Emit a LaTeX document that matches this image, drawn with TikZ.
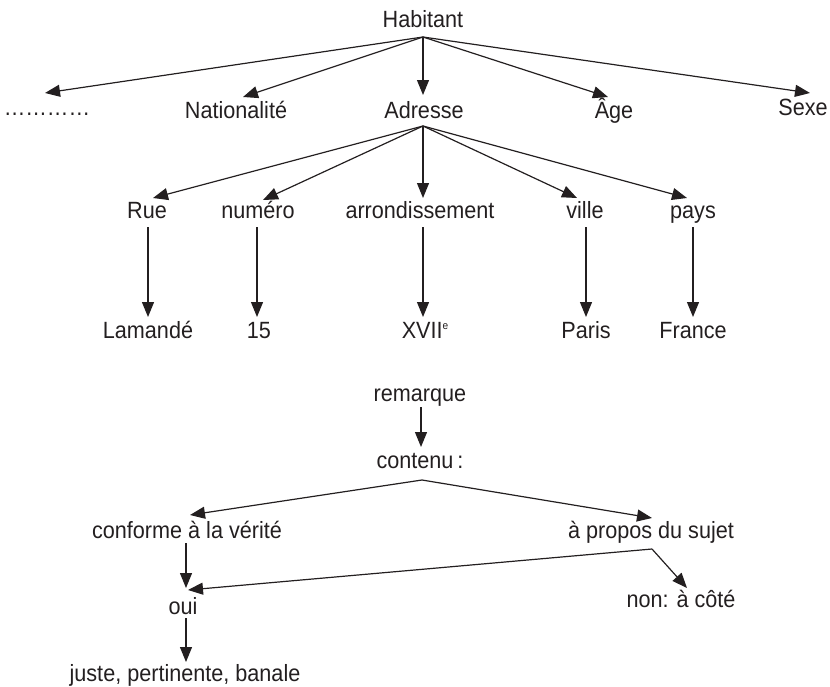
\documentclass[tikz,border=0pt]{standalone}
\usepackage{fontspec}
\setmainfont{Liberation Sans}[FakeStretch=0.92]
\usetikzlibrary{arrows.meta,calc}
\definecolor{ink}{RGB}{35,31,32}
\begin{document}
\begin{tikzpicture}[x=1pt,y=-1pt,
  lbl/.style={anchor=base,inner sep=0pt,text=ink,font=\fontsize{23.5}{28}\selectfont},
  arr/.style={draw=ink,line width=1.2pt,-{Triangle[length=15pt,width=12pt]}}]
\useasboundingbox (0,0) rectangle (830,686);
% level 0 and 1
\node[lbl] (hab) at (423,27) {Habitant};
\node[lbl] (dots) at (47,115) {…………};
\node[lbl] (nat) at (236,118) {Nationalité};
\node[lbl] (adr) at (424,118) {Adresse};
\node[lbl] (age) at (614,118) {Âge};
\node[lbl] (sexe) at (803,115) {Sexe};
% level 2
\node[lbl] (rue) at (147,218) {Rue};
\node[lbl] (num) at (258,218) {numéro};
\node[lbl] (arrd) at (420,218) {arrondissement};
\node[lbl] (ville) at (585,218) {ville};
\node[lbl] (pays) at (693,218) {pays};
% level 3
\node[lbl] (lam) at (148,338) {Lamandé};
\node[lbl] (quinze) at (259,338) {15};
\node[lbl] (xvii) at (425,338) {XVII\raisebox{9pt}{\fontsize{11}{11}\selectfont e}};
\node[lbl] (paris) at (586,338) {Paris};
\node[lbl] (france) at (693,338) {France};
% lower tree
\node[lbl] (rem) at (420,401) {remarque};
\node[lbl] (cont) at (420,468) {contenu\,:};
\node[lbl] (conf) at (187,538) {conforme à la vérité};
\node[lbl] (prop) at (651,538) {à propos du sujet};
\node[lbl] (oui) at (183,614) {oui};
\node[lbl] (non) at (681,607) {non: à côté};
\node[lbl] (juste) at (185,681) {juste, pertinente, banale};

% connectors, top
\coordinate (hab-o) at ($(hab.base)+(0,10)$);
\draw[arr] (hab-o) -- ($(dots.base)+(-2,-22)$);
\draw[arr] (hab-o) -- ($(nat.base)+(7,-21)$);
\draw[arr] (hab-o) -- ($(adr.base)+(-1,-23)$);
\draw[arr] (hab-o) -- ($(age.base)+(-6,-21)$);
\draw[arr] (hab-o) -- ($(sexe.base)+(7,-22)$);

\coordinate (adr-o) at ($(adr.base)+(-1,8)$);
\draw[arr] (adr-o) -- ($(rue.base)+(6,-20)$);
\draw[arr] (adr-o) -- ($(num.base)+(5,-18)$);
\draw[arr] (adr-o) -- ($(arrd.base)+(3,-20)$);
\draw[arr] (adr-o) -- ($(ville.base)+(-8,-20)$);
\draw[arr] (adr-o) -- ($(pays.base)+(-6,-20)$);

\draw[arr] ($(rue.base)+(1,9)$) -- ($(lam.base)+(0,-21)$);
\draw[arr] ($(num.base)+(-1,9)$) -- ($(quinze.base)+(-2,-21)$);
\draw[arr] ($(arrd.base)+(3,9)$) -- ($(xvii.base)+(-2,-21)$);
\draw[arr] ($(ville.base)+(1,9)$) -- ($(paris.base)+(0,-21)$);
\draw[arr] ($(pays.base)+(0,9)$) -- ($(france.base)+(0,-21)$);

% connectors, bottom
\draw[arr] ($(rem.base)+(1,6)$) -- ($(cont.base)+(1,-21)$);
\coordinate (cont-o) at ($(cont.base)+(2,12)$);
\draw[arr] (cont-o) -- ($(conf.base)+(3,-23)$);
\draw[arr] (cont-o) -- ($(prop.base)+(1,-20)$);
\draw[arr] ($(conf.base)+(-1,5)$) -- ($(oui.base)+(3,-26)$);
\coordinate (prop-o) at ($(prop.base)+(1,11)$);
\draw[arr] (prop-o) -- ($(oui.base)+(5,-24)$);
\draw[arr] (prop-o) -- ($(non.base)+(6,-19)$);
\draw[arr] ($(oui.base)+(3,4)$) -- ($(juste.base)+(1,-19)$);
\end{tikzpicture}
\end{document}
